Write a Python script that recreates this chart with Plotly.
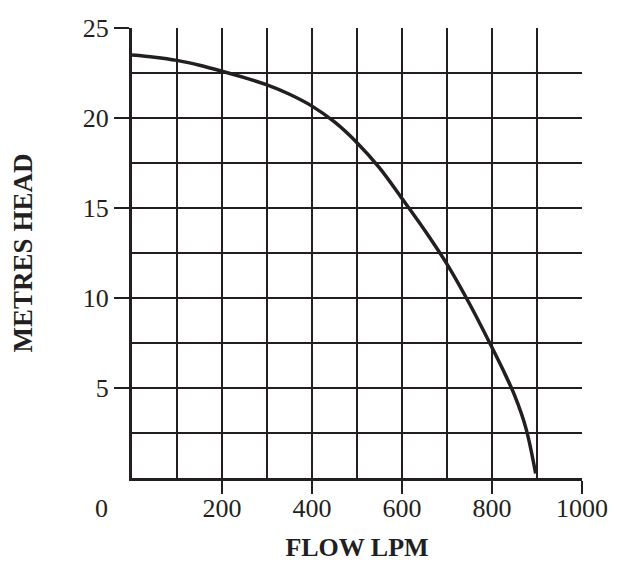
import plotly.graph_objects as go

flow_lpm = [0, 50, 100, 150, 200, 250, 300, 350, 400, 450, 500, 550, 600, 650, 700, 750, 800, 825, 850, 875, 897]
metres_head = [23.5, 23.38, 23.2, 22.93, 22.6, 22.24, 21.84, 21.32, 20.66, 19.78, 18.63, 17.23,
               15.53, 13.78, 11.88, 9.68, 7.25, 5.98, 4.6, 2.8, 0.25]

x_ticks = [200, 400, 600, 800, 1000]
y_ticks = [5, 10, 15, 20, 25]
corner_label = "0"

FONT = "Liberation Serif"
INK = "#231f20"

fig = go.Figure()
fig.add_trace(go.Scatter(
    x=flow_lpm, y=metres_head, mode="lines",
    line=dict(color=INK, width=3.5, shape="spline", smoothing=1.0),
    hoverinfo="skip", showlegend=False, cliponaxis=False,
))

# page body has an 8px default margin, so the figure is sized to fit inside it
fig.update_layout(
    width=605, height=554,
    margin=dict(l=124, r=31, t=20, b=84, autoexpand=False),
    paper_bgcolor="white", plot_bgcolor="white",
    font=dict(family=FONT, color=INK),
    xaxis=dict(
        range=[0, 1000], tickvals=x_ticks, ticktext=[str(v) for v in x_ticks],
        ticks="outside", ticklen=13, tickwidth=1.5, tickcolor=INK,
        ticklabelstandoff=-8,
        showgrid=True, gridcolor=INK, gridwidth=1.5,
        minor=dict(dtick=100, tick0=0, showgrid=True, gridcolor=INK, gridwidth=1.5),
        showline=True, linecolor=INK, linewidth=3, zeroline=False,
        tickfont=dict(family=FONT, size=26, color=INK),
        title=dict(text="<b>FLOW LPM</b>", font=dict(family=FONT, size=26, color=INK), standoff=39),
        automargin=False, fixedrange=True,
    ),
    yaxis=dict(
        range=[0, 25], tickvals=y_ticks, ticktext=[str(v) for v in y_ticks],
        ticks="outside", ticklen=15, tickwidth=1.5, tickcolor=INK,
        showgrid=True, gridcolor=INK, gridwidth=1.5,
        minor=dict(dtick=2.5, tick0=0, showgrid=True, gridcolor=INK, gridwidth=1.5),
        showline=True, linecolor=INK, linewidth=3, zeroline=False,
        tickfont=dict(family=FONT, size=26, color=INK),
        title=dict(text="<b>METRES HEAD</b>", font=dict(family=FONT, size=27, color=INK), standoff=45),
        automargin=False, fixedrange=True,
    ),
    annotations=[dict(
        text=corner_label, xref="paper", yref="paper", x=-0.067, y=-0.068,
        xanchor="center", yanchor="middle", showarrow=False,
        font=dict(family=FONT, size=26, color=INK),
    )],
)

fig.write_html("out.html")
